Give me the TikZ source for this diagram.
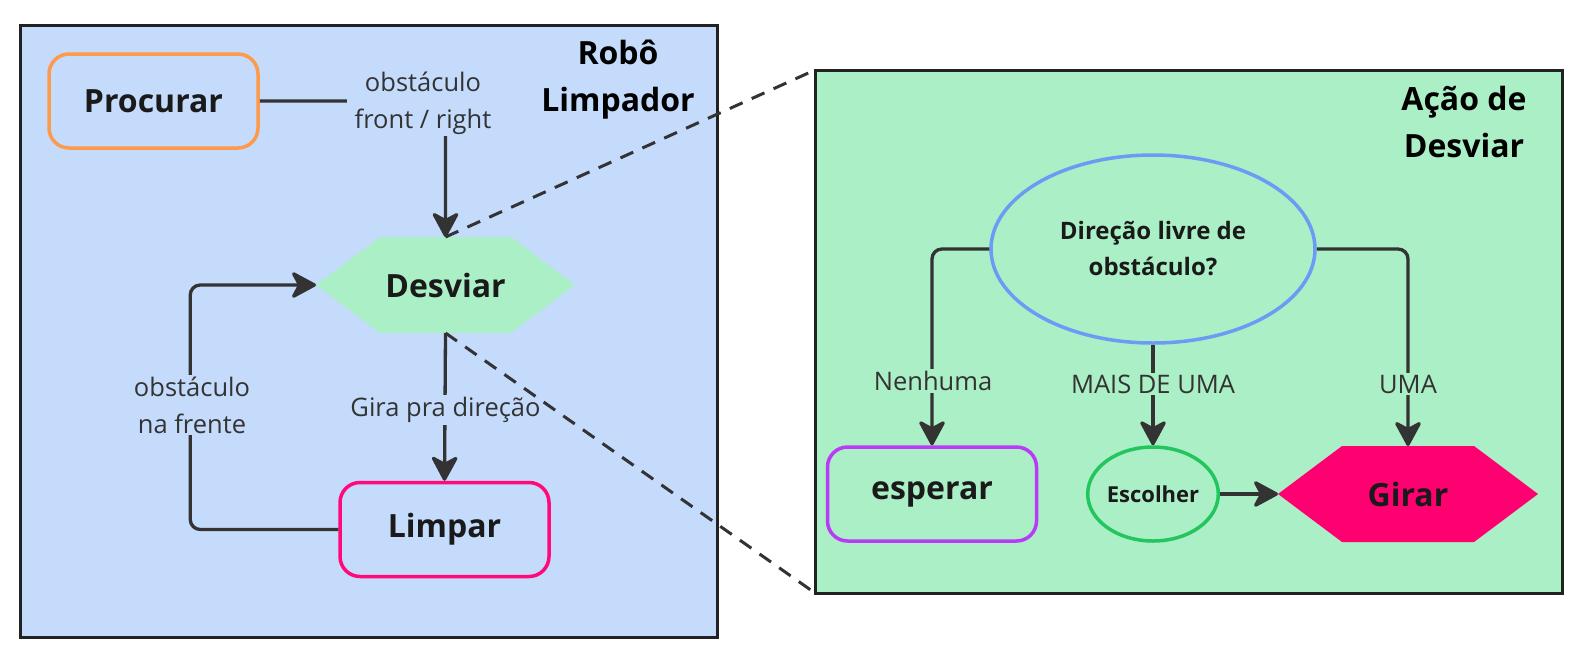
\documentclass[tikz,border=0pt]{standalone}
\usepackage{fontspec}
\setmainfont{Open Sans}
\usetikzlibrary{arrows.meta,shapes.geometric}
\definecolor{bgblue}{HTML}{C5DBFC}
\definecolor{bggreen}{HTML}{ABEFC6}
\definecolor{orangeb}{HTML}{FD9A4B}
\definecolor{pinkb}{HTML}{FF0A78}
\definecolor{girarfill}{HTML}{FF0070}
\definecolor{purpleb}{HTML}{BA3BF7}
\definecolor{blueb}{HTML}{6A9BF5}
\definecolor{greenb}{HTML}{22C55E}
\definecolor{linec}{HTML}{333333}
\definecolor{boxb}{HTML}{222222}
\definecolor{ink}{HTML}{1A1A1A}
\tikzset{
  frame/.style={draw=boxb, line width=3pt, inner sep=0pt, outer sep=0pt},
  bigtxt/.style={font=\fontsize{32}{47}\selectfont\bfseries, text=ink, align=center},
  rbox/.style={draw=#1, line width=3.5pt, rounded corners=20pt, minimum width=209pt, minimum height=94pt, inner sep=0pt, bigtxt},
  hexnode/.style={minimum width=259pt, minimum height=96pt, inner sep=0pt, outer sep=0pt, bigtxt,
    path picture={\fill[#1] (path picture bounding box.west) -- ([xshift=64pt]path picture bounding box.north west) -- ([xshift=-64pt]path picture bounding box.north east) -- (path picture bounding box.east) -- ([xshift=-64pt]path picture bounding box.south east) -- ([xshift=64pt]path picture bounding box.south west) -- cycle;}},
  lbl/.style={font=\fontsize{25.5}{37}\selectfont, text=linec, align=center, inner xsep=8pt, inner ysep=2pt, fill=#1},
  conn/.style={draw=linec, line width=3.3pt, rounded corners=10pt, -{Stealth[length=28pt 0 0,width=30pt 0 0,inset=8pt 0,round]}},
  dashline/.style={draw=linec, line width=3pt, dash pattern=on 14pt off 10pt},
}
\begin{document}
\begin{tikzpicture}[x=1pt,y=-1pt]
\useasboundingbox (0,0) rectangle (1586,667);
% frames
\node[frame, fill=bgblue, minimum width=697pt, minimum height=612pt] (lbox) at (368.5,331) {};
\node[frame, fill=bggreen, minimum width=747pt, minimum height=523pt] (rbx) at (1188.5,331.5) {};
% titles
\node[bigtxt, text=black] (t1) at (618,80) {Robô\\Limpador};
\node[bigtxt, text=black] (t2) at (1464,122) {Ação de\\Desviar};
% left nodes
\node[rbox=orangeb, fill=bgblue] (proc) at (153.5,101) {Procurar};
\node[hexnode=bggreen] (desv) at (445.5,285) {Desviar};
\node[rbox=pinkb, fill=bgblue] (limp) at (444.5,529.5) {Limpar};
% right nodes
\node[ellipse, draw=blueb, line width=3.5pt, fill=bggreen, minimum width=324pt, minimum height=188pt, inner sep=0pt,
      font=\fontsize{24}{36}\selectfont\bfseries, text=ink, align=center] (q) at (1153,249) {Direção livre de\\obstáculo?};
\node[rbox=purpleb, fill=bggreen] (esp) at (932,494) {esperar};
\node[ellipse, draw=greenb, line width=3.5pt, fill=bggreen, minimum width=130pt, minimum height=94pt, inner sep=0pt,
      font=\fontsize{22}{30}\selectfont\bfseries, text=ink] (esc) at (1153,494) {Escolher};
\node[hexnode=girarfill, minimum width=260pt] (gir) at (1408,494) {Girar};
% left connectors
\draw[conn] (proc.east) -| (desv.north);
\node[lbl=bgblue] (l1) at (423,103) {obstáculo\\front / right};
\draw[conn] (desv.south) -- (limp.north);
\node[lbl=bgblue] (l2) at (445.5,410) {Gira pra direção};
\draw[conn] (limp.west) -- ++(-148,0) |- (desv.west);
\node[lbl=bgblue] (l3) at (192,405) {obstáculo\\na frente};
% right connectors
\draw[conn] (q.west) -| (esp.north);
\node[lbl=bggreen] (l4) at (933,381) {Nenhuma};
\draw[conn] (q.south) -- (esc.north);
\node[lbl=bggreen] (l5) at (1153,384) {MAIS DE UMA};
\draw[conn] (q.east) -| (gir.north);
\node[lbl=bggreen] (l6) at (1408,384) {UMA};
\draw[conn] (esc.east) -- (gir.west);
% zoom lines
\draw[dashline] (desv.north) -- (rbx.north west);
\draw[dashline] (desv.south) -- (rbx.south west);
\end{tikzpicture}
\end{document}
